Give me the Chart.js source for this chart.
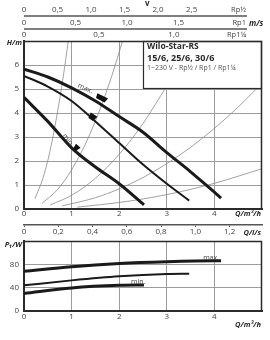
<!DOCTYPE html>
<html>
<head>
<meta charset="utf-8">
<script src="https://cdn.jsdelivr.net/npm/chart.js@4.4.1/dist/chart.umd.min.js"></script>
<style>
  html, body { margin: 0; padding: 0; background: #fff; }
  #wrap { position: relative; width: 270px; height: 340px; }
  canvas { position: absolute; left: 0; }
  #head { top: 0; }
  #power { top: 240px; }
</style>
</head>
<body>
<div id="wrap">
  <canvas id="head" width="270" height="240"></canvas>
  <canvas id="power" width="270" height="100"></canvas>
</div>
<script>
// pump curves, H/m over Q/m³/h
const qMax = [0, 0.5, 1, 1.5, 2, 2.5, 3, 3.5, 4, 4.14];
const hMax = [5.83, 5.5, 5.05, 4.5, 3.85, 3.2, 2.35, 1.55, 0.7, 0.45];
const qMid = [0, 0.5, 1, 1.5, 2, 2.5, 3, 3.47];
const hMid = [5.55, 5.1, 4.5, 3.65, 2.75, 1.85, 1.05, 0.35];
const qMin = [0, 0.5, 1, 1.5, 2, 2.52];
const hMin = [4.65, 3.65, 2.55, 1.75, 1.05, 0.17];

// thin system curves
const sys1Q = [0.23, 0.4, 0.55, 0.7, 0.82, 0.93];
const sys1H = [0.43, 1.3, 2.45, 4.0, 5.45, 7.0];
const sys2Q = [0.38, 0.7, 1.0, 1.3, 1.6, 1.85, 2.07];
const sys2H = [0.24, 0.8, 1.63, 2.75, 4.17, 5.58, 7.0];
const sys3Q = [0.55, 1.0, 1.5, 2.0, 2.5, 3.0];
const sys3H = [0.17, 0.57, 1.28, 2.28, 3.56, 5.13];
const sys4Q = [0.8, 1.5, 2.0, 2.5, 3.0, 3.5, 4.0, 4.5, 4.9];
const sys4H = [0.13, 0.47, 0.84, 1.31, 1.89, 2.57, 3.36, 4.25, 5.04];
const sys5Q = [1.12, 2, 3, 4, 5];
const sys5H = [0.08, 0.27, 0.6, 1.07, 1.68];

// power input, P1/W over Q/m³/h
const qPMax = [0, 1, 2, 3, 4, 4.14];
const pMax = [68, 76, 81.5, 84.5, 86, 86];
const qPMid = [0, 1, 2, 3, 3.47];
const pMid = [44, 52.5, 59.5, 63.5, 64];
const qPMin = [0, 1, 2, 2.52];
const pMin = [30, 39.5, 44, 44.5];

// ticks
const qTicks = [0, 1, 2, 3, 4];
const hTicks = [0, 1, 2, 3, 4, 5, 6];
const pTicks = [0, 40, 80];
const lsTicks = [0, 0.2, 0.4, 0.6, 0.8, 1.0, 1.2];
const vHalfTicks = [0, 0.5, 1.0, 1.5, 2.0, 2.5];   // Rp½
const vOneTicks = [0, 0.5, 1.0, 1.5];              // Rp1
const vQuarterTicks = [0, 0.5, 1.0];               // Rp1¼

const FONT = "'Open Sans', 'DejaVu Sans', sans-serif";
const INK = '#2b2b2b';
const GRID = '#9c9c9c';
const tickFont = { family: FONT, size: 8 };

function comma(v) { return v === 0 ? '0' : v.toFixed(1).replace('.', ','); }
const setTicks = vals => s => { s.ticks = vals.map(v => ({ value: v })); };
const setHeight = h => s => { s.height = h; };

function curve(qs, vs, w, color) {
  return {
    data: qs.map((q, i) => ({ x: q, y: vs[i] })),
    borderColor: color, borderWidth: w, pointRadius: 0,
    cubicInterpolationMode: 'monotone', fill: false, xAxisID: 'x', yAxisID: 'y'
  };
}

function label(ctx, txt, x, y, opt = {}) {
  ctx.font = (opt.style || '') + ' ' + (opt.size || 8) + 'px ' + FONT;
  ctx.fillStyle = opt.color || INK;
  ctx.textAlign = opt.align || 'left';
  ctx.textBaseline = 'middle';
  ctx.fillText(txt, x, y);
}

function rotLabel(ctx, txt, x, y, deg) {
  ctx.save();
  ctx.translate(x, y);
  ctx.rotate(deg * Math.PI / 180);
  label(ctx, txt, 0, 0, { size: 7, align: 'center', color: '#444' });
  ctx.restore();
}

// the black setting marks on the head curves
function tag(ctx, x, y, w, h, deg) {
  ctx.save();
  ctx.translate(x, y);
  ctx.rotate(deg * Math.PI / 180);
  ctx.beginPath();
  ctx.moveTo(-w / 2, -h / 2);
  ctx.lineTo(w / 2, -h / 2);
  ctx.lineTo(w / 2 - 1.5, h / 2);
  ctx.lineTo(-w / 2 + 1, h / 2);
  ctx.closePath();
  ctx.fillStyle = '#111';
  ctx.fill();
  ctx.restore();
}

function frame(ctx, a) {
  ctx.strokeStyle = INK;
  ctx.lineWidth = 1.5;
  ctx.beginPath();
  ctx.moveTo(a.left, a.top + 0.5);
  ctx.lineTo(a.right - 0.5, a.top + 0.5);
  ctx.lineTo(a.right - 0.5, a.bottom);
  ctx.stroke();
}

const headDeco = {
  id: 'headDeco',
  afterDatasetsDraw(chart) {
    const { ctx, chartArea: a, scales: s } = chart;
    const px = q => s.x.getPixelForValue(q);
    const py = h => s.y.getPixelForValue(h);
    ctx.save();
    // legend box sits over the thin curves
    const bx = a.left + 119, by = a.top, bw = a.right - bx, bh = 47;
    ctx.fillStyle = '#fff';
    ctx.fillRect(bx, by, bw, bh);
    ctx.strokeStyle = INK;
    ctx.lineWidth = 1.2;
    ctx.strokeRect(bx + 0.5, by + 0.5, bw - 1, bh);
    label(ctx, 'Wilo-Star-RS', bx + 4, by + 6, { style: 'bold', size: 8.5 });
    label(ctx, '15/6, 25/6, 30/6', bx + 4, by + 17.5, { style: 'bold', size: 9 });
    label(ctx, '1~230 V - Rp½ / Rp1 / Rp1¼', bx + 4, by + 27, { size: 7, color: '#555' });
    frame(ctx, a);

    tag(ctx, px(1.63), py(4.62), 12, 5, 27);
    tag(ctx, px(1.44), py(3.83), 8, 6, 32);
    tag(ctx, px(1.1), py(2.54), 6, 6, 40);
    rotLabel(ctx, 'max.', px(1.29), py(5.02), 24);
    rotLabel(ctx, 'min.', px(0.93), py(2.87), 52);
    ctx.restore();
  },
  afterDraw(chart) {
    const { ctx, chartArea: a, scales: s } = chart;
    ctx.save();
    const lineEnd = a.right - 15;
    ctx.strokeStyle = '#555';
    ctx.lineWidth = 1.5;
    [s.x2, s.x3].forEach(sc => {
      ctx.beginPath();
      ctx.moveTo(sc.getPixelForValue(0), sc.bottom);
      ctx.lineTo(lineEnd, sc.bottom);
      ctx.stroke();
    });
    label(ctx, 'v', 145, 4, { style: 'bold', size: 8 });
    label(ctx, 'Rp½', lineEnd - 1, s.x2.bottom - 6, { align: 'right', size: 7.5, color: '#444' });
    label(ctx, 'Rp1', lineEnd - 1, s.x3.bottom - 6, { align: 'right', size: 7.5, color: '#444' });
    label(ctx, 'm/s', lineEnd + 2, s.x3.bottom - 5, { style: 'italic bold', size: 8 });
    label(ctx, 'Rp1¼', lineEnd - 1, s.x4.bottom - 6, { align: 'right', size: 7.5, color: '#444' });
    label(ctx, 'H/m', 22, a.top + 2, { style: 'italic bold', size: 7.5, align: 'right' });
    label(ctx, 'Q/m³/h', a.right - 1, s.x.top + 5, { style: 'italic bold', size: 7.5, align: 'right' });
    label(ctx, 'Q/l/s', a.right - 1, s.xls.top + 8, { style: 'italic bold', size: 7.5, align: 'right' });
    ctx.restore();
  }
};

const powerDeco = {
  id: 'powerDeco',
  afterDatasetsDraw(chart) {
    const { ctx, chartArea: a, scales: s } = chart;
    const px = q => s.x.getPixelForValue(q);
    const py = p => s.y.getPixelForValue(p);
    ctx.save();
    frame(ctx, a);
    label(ctx, 'max.', px(3.93), py(91), { size: 7, align: 'center', color: '#444' });
    label(ctx, 'min.', px(2.4), py(50), { size: 7, align: 'center', color: '#444' });
    label(ctx, 'P₁/W', 22, a.top + 4, { style: 'italic bold', size: 7.5, align: 'right' });
    label(ctx, 'Q/m³/h', a.right - 1, s.x.top + 14, { style: 'italic bold', size: 7.5, align: 'right' });
    ctx.restore();
  }
};

function topAxis(max, vals, h) {
  return {
    type: 'linear', position: 'top', min: 0, max: max,
    afterBuildTicks: setTicks(vals), afterFit: setHeight(h),
    ticks: { font: tickFont, color: '#444', padding: 1, autoSkip: false, maxRotation: 0, callback: comma },
    grid: { display: false, drawTicks: false },
    border: { display: false }
  };
}

new Chart(document.getElementById('head'), {
  type: 'line',
  data: {
    datasets: [
      curve(qMax, hMax, 3, '#1a1a1a'),
      curve(qMid, hMid, 2, '#1a1a1a'),
      curve(qMin, hMin, 3, '#1a1a1a'),
      curve(sys1Q, sys1H, 0.8, '#8a8a8a'),
      curve(sys2Q, sys2H, 0.8, '#8a8a8a'),
      curve(sys3Q, sys3H, 0.8, '#8a8a8a'),
      curve(sys4Q, sys4H, 0.8, '#8a8a8a'),
      curve(sys5Q, sys5H, 0.8, '#8a8a8a')
    ]
  },
  options: {
    responsive: false,
    animation: false,
    layout: { padding: { left: 0, right: 8, top: 0, bottom: 0 } },
    plugins: { legend: { display: false }, tooltip: { enabled: false } },
    scales: {
      x: {
        type: 'linear', position: 'bottom', min: 0, max: 5,
        afterBuildTicks: setTicks(qTicks), afterFit: setHeight(16),
        ticks: { font: tickFont, color: '#444', padding: 0, autoSkip: false, maxRotation: 0 },
        grid: { color: GRID, lineWidth: 1, drawTicks: false },
        border: { color: INK, width: 2 }
      },
      xls: {
        type: 'linear', position: 'bottom', min: 0, max: 1.389,
        afterBuildTicks: setTicks(lsTicks), afterFit: setHeight(15),
        ticks: { font: tickFont, color: '#444', padding: 0, autoSkip: false, maxRotation: 0, callback: comma },
        grid: { drawOnChartArea: false, tickLength: 2, color: '#555' },
        border: { color: '#555', width: 1.5 }
      },
      x4: topAxis(1.587, vQuarterTicks, 12),
      x3: topAxis(2.31, vOneTicks, 13),
      x2: topAxis(3.55, vHalfTicks, 16),
      y: {
        min: 0, max: 7,
        afterBuildTicks: setTicks(hTicks),
        afterFit: s => { s.width = 24; },
        ticks: { font: tickFont, color: '#444', padding: 5, autoSkip: false },
        grid: { color: GRID, lineWidth: 1, drawTicks: false },
        border: { color: INK, width: 2 }
      }
    }
  },
  plugins: [headDeco]
});

new Chart(document.getElementById('power'), {
  type: 'line',
  data: {
    datasets: [
      curve(qPMax, pMax, 3, '#1a1a1a'),
      curve(qPMid, pMid, 2, '#1a1a1a'),
      curve(qPMin, pMin, 3, '#1a1a1a')
    ]
  },
  options: {
    responsive: false,
    animation: false,
    layout: { padding: { left: 0, right: 8, top: 1, bottom: 0 } },
    plugins: { legend: { display: false }, tooltip: { enabled: false } },
    scales: {
      x: {
        type: 'linear', position: 'bottom', min: 0, max: 5,
        afterBuildTicks: setTicks(qTicks), afterFit: setHeight(29),
        ticks: { font: tickFont, color: '#444', padding: 1, autoSkip: false, maxRotation: 0 },
        grid: { color: GRID, lineWidth: 1, drawTicks: false },
        border: { color: INK, width: 2 }
      },
      y: {
        min: 0, max: 120,
        afterBuildTicks: setTicks(pTicks),
        afterFit: s => { s.width = 24; s.paddingTop = 0; s.paddingBottom = 0; },
        ticks: { font: tickFont, color: '#444', padding: 5, autoSkip: false },
        grid: { color: GRID, lineWidth: 1, drawTicks: false },
        border: { color: INK, width: 2 }
      }
    }
  },
  plugins: [powerDeco]
});
</script>
</body>
</html>
